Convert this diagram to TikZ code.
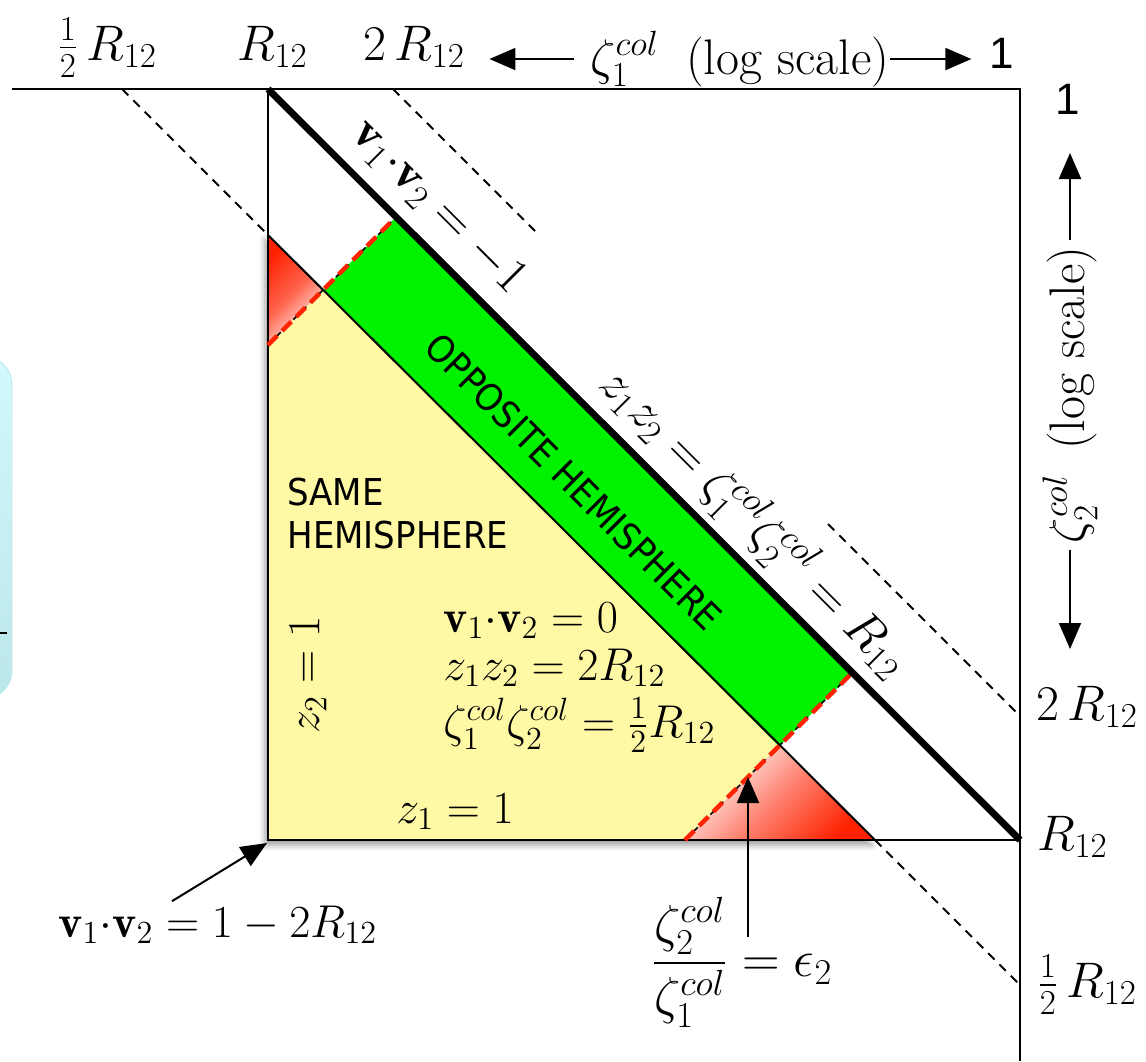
\RequirePackage{fix-cm}
\documentclass[tikz,border=0pt]{standalone}
\usepackage{amsmath}
\usepackage{fontspec}
\newfontfamily\hemifont[FakeStretch=0.92]{DejaVu Sans}
\newfontfamily\digitfont{Liberation Sans}
\usetikzlibrary{arrows.meta,shadows.blur}
\definecolor{hemiyellow}{HTML}{FFF9A6}
\definecolor{hemigreen}{HTML}{00F200}
\definecolor{hemired}{HTML}{FF2200}
\definecolor{boxcyan}{HTML}{D2FAFC}
\definecolor{boxcyandark}{HTML}{BBE6EA}

\begin{document}
\begin{tikzpicture}[x=0.5pt, y=-0.5pt,
      edge/.style={line width=1pt},
      diag/.style={line width=3.4pt},
      guide/.style={line width=1pt, dash pattern=on 4.5pt off 3.5pt},
      redcut/.style={line width=2.2pt, hemired, dash pattern=on 6.5pt off 3.5pt},
      axlab/.style={font=\fontsize{25}{30}\selectfont, inner sep=0pt},
      eqlab/.style={font=\fontsize{23}{27}\selectfont, inner sep=0pt},
      hemi/.style={font=\hemifont\fontsize{18.5}{21.5}\selectfont, inner sep=0pt},
      onelab/.style={font=\digitfont\fontsize{22}{26}\selectfont, inner sep=0pt},
      pointer/.style={line width=1pt, draw=black, ->},
      >={Triangle[length=13pt, width=11pt, fill=black]}]
    \useasboundingbox (0,0) rectangle (1146,1061);
    % cut-off box on the left
    \begin{scope}
      \clip (0,0) rectangle (1146,1061);
      \shade[top color=boxcyan, bottom color=boxcyandark, draw=boxcyandark,
             rounded corners=15pt] (-80,355) rectangle (12,700);
      \draw[line width=1pt] (0,633) -- (7,633);
    \end{scope}
    % same hemisphere triangle with its shadow
    \fill[hemiyellow, blur shadow={shadow xshift=-1.5pt, shadow yshift=-2.5pt,
          shadow blur radius=3pt}] (268,235) -- (268,840) -- (875,840) -- cycle;
    \shade[top color=hemired, bottom color=white, middle color=hemired!70,
           shading angle=45]
      (268,235) -- (323,290) -- (268,345) -- cycle;
    \shade[top color=white, bottom color=hemired, middle color=hemired!55,
           shading angle=45]
      (779,746) -- (875,840) -- (685,840) -- cycle;
    \fill[hemigreen] (323,290) -- (396,217) -- (852,673) -- (779,746) -- cycle;
    % frame and edges
    \draw[edge] (12,89) -- (1020,89) -- (1020,1061);
    \draw[edge] (268,89) -- (268,840) -- (1020,840);
    \draw[edge] (268,235) -- (875,840);
    \draw[guide] (122,89) -- (268,235);
    \draw[guide] (875,840) -- (1020,985);
    \draw[guide] (393,89) -- (535,231);
    \draw[guide] (828,524) -- (1020,716);
    \draw[line width=0.8pt, dash pattern=on 3pt off 3pt] (268,345) -- (396,217);
    \draw[line width=0.8pt, dash pattern=on 3pt off 3pt] (685,840) -- (852,673);
    \draw[redcut] (268,345) -- (396,217);
    \draw[redcut] (685,840) -- (852,673);
    \draw[diag] (268,89) -- (1020,840);
    % axis labels
    \node[axlab, anchor=base west] (tHalf) at (57,60) {$\frac{1}{2}\,R_{12}$};
    \node[axlab, anchor=base west] (tOne) at (237,60) {$R_{12}$};
    \node[axlab, anchor=base west] (tTwo) at (363,60) {$2\,R_{12}$};
    \node[axlab, anchor=base west] (tAxis) at (590,74)
      {$\zeta_1^{col}$\hspace{0.55em}(log scale)};
    \node[onelab, anchor=base] (oneTop) at (1002,68) {1};
    \node[onelab, anchor=base] (oneRight) at (1068,114) {1};
    \coordinate (axL) at ([xshift=-8pt]tAxis.west);
    \coordinate (axR) at (tAxis.east);
    \draw[pointer, shorten >=12pt] (axL) -- (axL -| tTwo.east);
    \draw[pointer, shorten >=9pt] (axR) -- (axR -| oneTop.west);
    \node[axlab, rotate=90] (rAxis) at (1070,395) {$\zeta_2^{col}$\enspace(log scale)};
    \coordinate (ayTop) at (1070,153);
    \coordinate (ayBot) at (1070,649);
    \draw[pointer, shorten <=3pt] (rAxis.east) -- (ayTop);
    \draw[pointer, shorten <=3pt] (rAxis.west) -- (ayBot);
    \node[axlab, anchor=base west] (rTwo) at (1036,720) {$2\,R_{12}$};
    \node[axlab, anchor=base west] (rOne) at (1037,850) {$R_{12}$};
    \node[axlab, anchor=base west] (rHalf) at (1037,997) {$\frac{1}{2}\,R_{12}$};
    % labels along the diagonals
    \node[axlab, rotate=-45] (dotLow) at (438,207) {$\mathbf{v}_1{\cdot}\mathbf{v}_2 = -1$};
    \node[axlab, rotate=-45] (zzLine) at (755,522)
      {$z_1z_2 = \zeta_1^{col}\zeta_2^{col} = R_{12}$};
    \node[hemi, rotate=-45] (opp) at (574,482) {OPPOSITE HEMISPHERE};
    \node[hemi, anchor=base west, align=left] (same) at (287,548) {SAME\\HEMISPHERE};
    % inner equations
    \node[eqlab, anchor=base west] (eqZero) at (443,632) {$\mathbf{v}_1{\cdot}\mathbf{v}_2 = 0$};
    \node[eqlab, anchor=base west] (eqTwo) at (443,680) {$z_1z_2 = 2R_{12}$};
    \node[eqlab, anchor=base west] (eqHalf) at (443,737)
      {$\zeta_1^{col}\zeta_2^{col} = \frac{1}{2}R_{12}$};
    \node[eqlab, anchor=base west] (zOne) at (396,823) {$z_1 = 1$};
    \node[eqlab, rotate=90] (zTwo) at (308,675) {$z_2 = 1$};
    % pointers
    \coordinate (corner) at (267,843);
    \coordinate (cutTip) at (748,777);
    \node[eqlab, anchor=base west] (dotMin) at (58,937)
      {$\mathbf{v}_1{\cdot}\mathbf{v}_2 = 1 - 2R_{12}$};
    \node[axlab, font=\fontsize{26}{31}\selectfont] (ratio) at (742,962)
      {$\dfrac{\zeta_2^{col}}{\zeta_1^{col}} = \epsilon_2$};
    \draw[pointer] ([xshift=57pt, yshift=2pt]dotMin.north west) -- (corner);
    \draw[pointer] (ratio.north -| cutTip) ++(0,-20pt) -- (cutTip);
  \end{tikzpicture}
\end{document}
